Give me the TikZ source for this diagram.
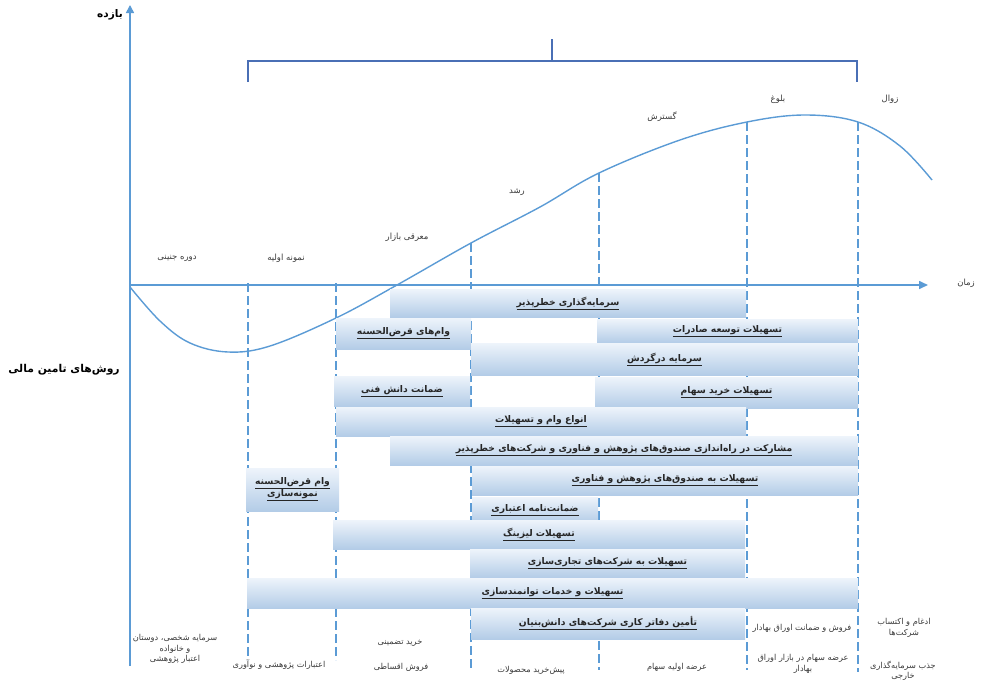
\documentclass[tikz,border=0pt]{standalone}
\usepackage{fontspec}
\usetikzlibrary{arrows.meta}
\newfontfamily\persianfont[Script=Arabic]{DejaVu Sans}
\TeXXeTstate=1
\definecolor{axisblue}{HTML}{5B9BD5}
\definecolor{bracketblue}{HTML}{4A6FB5}
\definecolor{bartop}{HTML}{EEF4FB}
\definecolor{barbottom}{HTML}{B3CCE7}
\definecolor{labelgray}{HTML}{3A3A3A}
\newcommand{\fa}[1]{\beginR#1\endR}
\newcommand{\faul}[1]{\underline{\hbox{\beginR#1\endR}}}

\begin{document}
\begin{tikzpicture}[x=1pt,y=-1pt,
  bar/.style={rectangle,inner sep=0pt,top color=bartop,bottom color=barbottom,
    text=black!85,align=center,font=\persianfont\bfseries\fontsize{9.2}{12}\selectfont},
  stage/.style={text=labelgray,font=\persianfont\fontsize{8.5}{10}\selectfont},
  method/.style={text=labelgray,align=center,font=\persianfont\fontsize{8.2}{10.5}\selectfont},
  guide/.style={axisblue,line width=1.5pt,dash pattern=on 9pt off 4pt}]
\useasboundingbox (0,0) rectangle (982,688);

\draw[guide] (248,283) -- (248,660);
\draw[guide] (336,283) -- (336,660);
\draw[guide] (471,243) -- (471,670);
\draw[guide] (599,173) -- (599,670);
\draw[guide] (747,122) -- (747,670);
\draw[guide] (858,122) -- (858,672);

\draw[axisblue,line width=1.6pt,-{Triangle[length=8pt,width=8pt]}] (130,666) -- (130,5);
\draw[axisblue,line width=1.6pt,-{Triangle[length=9pt,width=8pt]}] (130,285) -- (928,285);

\draw[axisblue,line width=1.4pt] plot[smooth,tension=0.6] coordinates {(130,287) (160,321) (190,343) (228,352)
  (270,346) (336,318) (397,285) (471,243) (540,207) (599,173) (680,140) (747,122)
  (805,115) (858,122) (900,146) (932,180)};

\draw[bracketblue,line width=1.3pt] (248,82) -- (248,61) -- (857,61) -- (857,82);
\draw[bracketblue,line width=2pt] (552,61) -- (552,39);

\node[font=\persianfont\bfseries\fontsize{10.5}{12}\selectfont] (yield) at (110,15) {\fa{بازده}};
\node[stage] (time) at (966,283) {\fa{زمان}};
\node[font=\persianfont\bfseries\fontsize{10.8}{12}\selectfont] (methods) at (64,370) {\fa{روش‌های تامین مالی}};

\node[stage] (seed) at (177,258) {\fa{دوره جنینی}};
\node[stage] (proto) at (286,258) {\fa{نمونه اولیه}};
\node[stage] (market) at (407,237) {\fa{معرقی بازار}};
\node[stage] (growth) at (517,192) {\fa{رشد}};
\node[stage] (expand) at (662,117) {\fa{گسترش}};
\node[stage] (mature) at (778,99) {\fa{بلوغ}};
\node[stage] (decline) at (890,99) {\fa{زوال}};

\node[bar,minimum width=356,minimum height=28] (vc) at (568,303) {\faul{سرمایه‌گذاری خطرپذیر}};
\node[bar,minimum width=261,minimum height=24] (export) at (727.5,331) {\faul{تسهیلات توسعه صادرات}};
\node[bar,minimum width=135,minimum height=31] (qarz) at (403.5,333.5) {\faul{وام‌های قرض‌الحسنه}};
\node[bar,minimum width=387,minimum height=32] (working) at (664.5,359) {\faul{سرمایه درگردش}};
\node[bar,minimum width=263,minimum height=31] (shares) at (726.5,392.5) {\faul{تسهیلات خرید سهام}};
\node[bar,minimum width=136,minimum height=30] (knowhow) at (402,391) {\faul{ضمانت دانش فنی}};
\node[bar,minimum width=410,minimum height=29] (loans) at (541,421.5) {\faul{انواع وام و تسهیلات}};
\node[bar,minimum width=468,minimum height=29] (funds) at (624,450.5) {\faul{مشارکت در راه‌اندازی صندوق‌های پژوهش و فناوری و شرکت‌های خطرپذیر}};
\node[bar,minimum width=386,minimum height=29] (fundloans) at (665,480.5) {\faul{تسهیلات به صندوق‌های پژوهش و فناوری}};
\node[bar,minimum width=93,minimum height=43] (protoloan) at (292.5,489.5) {\faul{وام قرض‌الحسنه}\\\faul{نمونه‌سازی}};
\node[bar,minimum width=126,minimum height=26] (credit) at (535,510) {\faul{ضمانت‌نامه اعتباری}};
\node[bar,minimum width=412,minimum height=29] (leasing) at (539,534.5) {\faul{تسهیلات لیزینگ}};
\node[bar,minimum width=275,minimum height=29] (commerce) at (607.5,563.5) {\faul{تسهیلات به شرکت‌های تجاری‌سازی}};
\node[bar,minimum width=611,minimum height=30] (empower) at (552.5,593) {\faul{تسهیلات و خدمات توانمندسازی}};
\node[bar,minimum width=274,minimum height=31] (office) at (608,623.5) {\faul{تأمین دفاتر کاری شرکت‌های دانش‌بنیان}};

\node[method] (personal) at (175,649) {\fa{سرمایه شخصی، دوستان}\\\fa{و خانواده}\\\fa{اعتبار پژوهشی}};
\node[method] (rdcredit) at (279,665) {\fa{اعتبارات پژوهشی و نوآوری}};
\node[method] (guarantee) at (400,643) {\fa{خرید تضمینی}};
\node[method] (install) at (401,667) {\fa{فروش اقساطی}};
\node[method] (presale) at (531,670) {\fa{پیش‌خرید محصولات}};
\node[method] (ipo) at (677,667) {\fa{عرضه اولیه سهام}};
\node[method] (bonds) at (802,628) {\fa{فروش و ضمانت اوراق بهادار}};
\node[method] (exchange) at (803,664) {\fa{عرضه سهام در بازار اوراق}\\\fa{بهادار}};
\node[method] (merger) at (904,628) {\fa{ادغام و اکتساب}\\\fa{شرکت‌ها}};
\node[method] (foreign) at (903,671) {\fa{جذب سرمایه‌گذاری}\\\fa{خارجی}};

\end{tikzpicture}
\end{document}
